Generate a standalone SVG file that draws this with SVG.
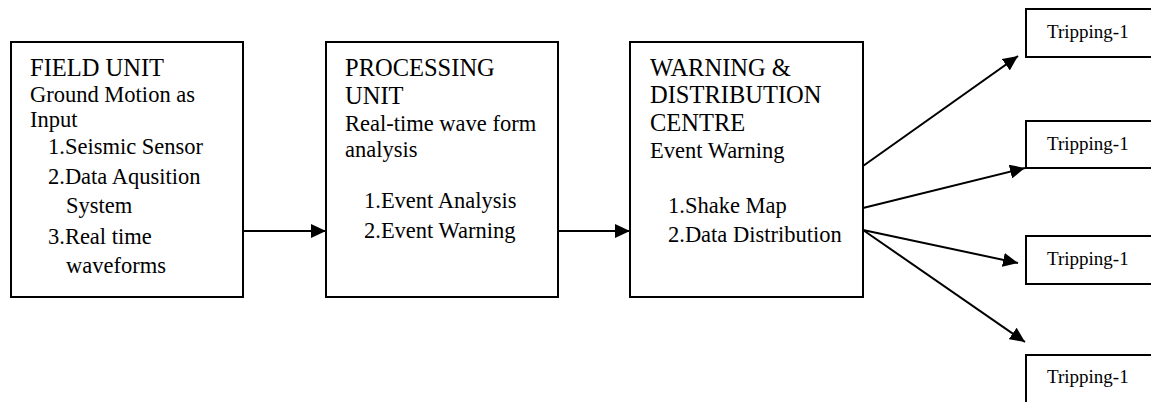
<svg xmlns="http://www.w3.org/2000/svg" width="1151" height="402" viewBox="0 0 1151 402">
<style>
.box{fill:#fff;stroke:#000;stroke-width:2}
text{font-family:'Liberation Serif','Times New Roman','DejaVu Serif',serif;fill:#000}
.h{font-size:24.5px}
.b{font-size:22.5px}
.s{font-size:19px}
.c{stroke:#000;stroke-width:2;fill:none;marker-end:url(#ah)}
</style>
<defs>
<marker id="ah" markerUnits="userSpaceOnUse" markerWidth="16" markerHeight="14" refX="15" refY="7" orient="auto">
<path d="M0,0 L15,7 L0,14 z" fill="#000"/>
</marker>
</defs>
<rect width="1151" height="402" fill="#fff"/>
<g id="field-unit" font-family="Liberation Serif, serif">
<rect class="box" x="11" y="42" width="232" height="255"/>
<text class="h" x="30" y="76">FIELD UNIT</text>
<text class="b" x="30" y="102">Ground Motion as</text>
<text class="b" x="30" y="127">Input</text>
<text class="b" x="48" y="154">1.Seismic Sensor</text>
<text class="b" x="48" y="184">2.Data Aqusition</text>
<text class="b" x="66" y="213">System</text>
<text class="b" x="48" y="244">3.Real time</text>
<text class="b" x="66" y="273">waveforms</text>
</g>
<g id="processing-unit">
<rect class="box" x="326" y="42" width="232" height="255"/>
<text class="h" x="345" y="76">PROCESSING</text>
<text class="h" x="345" y="104">UNIT</text>
<text class="b" x="345" y="131">Real-time wave form</text>
<text class="b" x="345" y="157">analysis</text>
<text class="b" x="364" y="208">1.Event Analysis</text>
<text class="b" x="364" y="238">2.Event Warning</text>
</g>
<g id="warning-centre">
<rect class="box" x="630" y="42" width="233" height="255"/>
<text class="h" x="650" y="76">WARNING &amp;</text>
<text class="h" x="650" y="103">DISTRIBUTION</text>
<text class="h" x="650" y="131">CENTRE</text>
<text class="b" x="650" y="158">Event Warning</text>
<text class="b" x="668" y="213">1.Shake Map</text>
<text class="b" x="668" y="242">2.Data Distribution</text>
</g>
<g id="tripping-1a">
<rect class="box" x="1026" y="9" width="140" height="48"/>
<text class="s" x="1047" y="38">Tripping-1</text>
</g>
<g id="tripping-1b">
<rect class="box" x="1026" y="121" width="140" height="47"/>
<text class="s" x="1047" y="150">Tripping-1</text>
</g>
<g id="tripping-1c">
<rect class="box" x="1026" y="236" width="140" height="48"/>
<text class="s" x="1047" y="265">Tripping-1</text>
</g>
<g id="tripping-1d">
<rect class="box" x="1026" y="355" width="140" height="60"/>
<text class="s" x="1047" y="383">Tripping-1</text>
</g>
<g id="connectors">
<line class="c" x1="243" y1="231" x2="326" y2="231"/>
<line class="c" x1="558" y1="231" x2="630" y2="231"/>
<line class="c" x1="863" y1="166" x2="1018" y2="56"/>
<line class="c" x1="863" y1="208" x2="1025" y2="168"/>
<line class="c" x1="863" y1="230" x2="1018" y2="263"/>
<line class="c" x1="863" y1="230" x2="1025" y2="342"/>
</g>
</svg>
